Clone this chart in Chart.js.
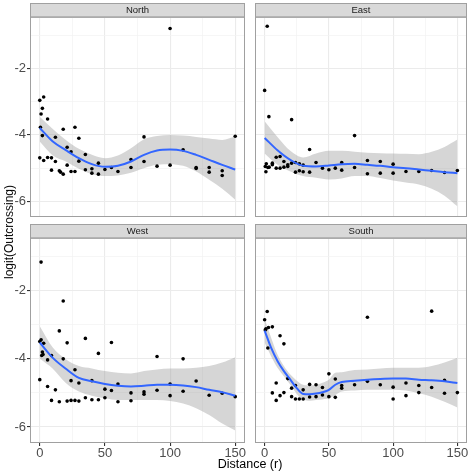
<!DOCTYPE html>
<html>
<head>
<meta charset="utf-8">
<script src="https://cdn.jsdelivr.net/npm/chart.js@4.4.1/dist/chart.umd.min.js"></script>
<style>
  body { margin: 0; background: #fff; font-family: "Liberation Sans", Arial, sans-serif; }
  #wrap { position: relative; width: 474px; height: 474px; overflow: hidden; }
  canvas { position: absolute; }
  #north { left: 0; top: 3px; }
  #east { left: 251px; top: 3px; }
  #west { left: 0; top: 224px; }
  #south { left: 251px; top: 224px; }
  .axis-title { position: absolute; color: #000; white-space: nowrap; }
  #ytitle { left: 8.5px; top: 232px; font-size: 12px; transform: translate(-50%, -50%) rotate(-90deg); }
  #xtitle { left: 250px; top: 464px; font-size: 12.5px; transform: translate(-50%, -50%); }
</style>
</head>
<body>
<div id="wrap">
  <canvas id="north" width="249" height="218"></canvas>
  <canvas id="east" width="220" height="218"></canvas>
  <canvas id="west" width="249" height="238"></canvas>
  <canvas id="south" width="220" height="238"></canvas>
  <div class="axis-title" id="ytitle">logit(Outcrossing)</div>
  <div class="axis-title" id="xtitle">Distance (r)</div>
</div>
<script>
const regions = ["North", "East", "West", "South"];
const xMajorTicks = [0, 50, 100, 150];
const xMinorTicks = [25, 75, 125];
const yMajorTicks = [-6, -4, -2];
const yMinorTicks = [-5, -3, -1];

// observed points
const northDist = [0, 3, 1, 2, 6, 0.5, 2, 0, 3, 6, 9, 9, 12, 12, 15, 16, 18, 18, 21, 24, 21, 24, 27, 27, 30, 30, 35, 35, 40, 40, 45, 45, 50, 55, 60, 70, 70, 80, 80, 90, 100, 100, 110, 120, 120, 130, 130, 140, 140, 150];
const northLogit = [-2.96, -2.86, -3.37, -3.20, -3.52, -3.77, -4.02, -4.69, -4.77, -4.68, -4.69, -5.06, -4.07, -4.80, -5.08, -5.12, -5.18, -3.83, -4.37, -4.51, -4.91, -5.10, -5.10, -3.77, -4.10, -4.79, -4.59, -5.05, -5.02, -5.15, -4.85, -5.18, -5.04, -4.98, -5.10, -4.74, -4.98, -4.06, -4.80, -4.94, -0.80, -4.91, -4.45, -4.98, -5.01, -4.98, -5.12, -5.08, -5.22, -4.04];

const eastDist = [2, 0, 3.3, 21, 70, 35, 0.5, 1.3, 1, 2.5, 3.5, 6, 6, 9, 12, 9, 12, 15, 18, 18, 15, 21, 24, 27, 30, 24, 27, 30, 35, 40, 45, 50, 55, 60, 60, 70, 80, 80, 90, 90, 100, 100, 110, 120, 130, 140, 150];
const eastLogit = [-0.73, -2.66, -3.45, -3.54, -4.02, -4.44, -4.95, -4.87, -5.11, -4.98, -4.97, -4.85, -4.90, -4.67, -4.65, -5.00, -5.00, -4.97, -4.95, -4.90, -4.80, -4.85, -4.83, -4.87, -4.91, -5.12, -5.08, -5.11, -5.12, -4.83, -5.00, -5.05, -5.00, -4.83, -5.06, -4.98, -4.77, -5.17, -4.80, -5.15, -4.88, -5.15, -5.10, -5.10, -5.07, -5.13, -5.07];

const westDist = [1, 18, 15, 21, 35, 55, 45, 90, 110, 0, 1, 3, 2, 2.5, 1.5, 9, 6, 18, 27, 0, 6, 12, 9, 15, 21, 24, 27, 30, 24, 30, 35, 40, 40, 45, 50, 50, 55, 60, 60, 70, 70, 80, 80, 90, 100, 100, 110, 120, 130, 140, 150];
const westLogit = [-1.16, -2.30, -3.18, -3.53, -3.40, -3.52, -3.84, -3.93, -4.00, -3.49, -3.44, -3.54, -3.80, -3.87, -3.90, -3.90, -4.03, -4.00, -4.32, -4.61, -4.81, -4.91, -5.22, -5.26, -5.24, -5.22, -5.22, -5.24, -4.64, -4.71, -5.14, -5.20, -4.64, -5.20, -5.14, -4.89, -4.93, -4.74, -5.26, -5.00, -5.23, -4.97, -5.04, -4.92, -4.74, -5.08, -4.95, -4.65, -5.07, -5.01, -5.11];

const southDist = [0, 2, 1, 0.5, 3, 6, 2.5, 12, 15, 80, 130, 50, 9, 6, 9, 12, 15, 18, 21, 21, 24, 24, 27, 30, 30, 35, 35, 40, 40, 45, 45, 50, 55, 55, 60, 60, 70, 80, 90, 100, 100, 110, 110, 120, 120, 130, 140, 140, 150];
const southLogit = [-2.85, -2.61, -3.12, -3.15, -3.08, -3.06, -3.68, -3.32, -3.56, -2.78, -2.60, -4.44, -4.71, -5.00, -5.22, -5.08, -4.99, -4.58, -4.86, -5.11, -4.78, -5.18, -5.18, -4.91, -5.18, -4.75, -5.12, -4.76, -5.11, -4.84, -5.06, -5.11, -4.59, -5.13, -4.78, -4.86, -4.76, -4.66, -4.76, -4.83, -5.18, -4.71, -5.08, -4.78, -4.99, -4.84, -4.63, -5.01, -4.99];

// loess fit with confidence band
const fitDist = [0, 10, 20, 30, 40, 50, 60, 70, 80, 90, 100, 110, 120, 130, 140, 150];
const northFit = [-3.79, -4.20, -4.46, -4.70, -4.88, -4.96, -4.93, -4.80, -4.60, -4.47, -4.44, -4.48, -4.60, -4.75, -4.90, -5.04];
const northUpper = [-3.45, -3.82, -4.15, -4.42, -4.60, -4.70, -4.62, -4.40, -4.13, -4.03, -4.00, -4.02, -4.06, -4.11, -4.15, -4.05];
const northLower = [-4.20, -4.62, -4.80, -5.02, -5.18, -5.24, -5.22, -5.14, -5.00, -4.90, -4.88, -4.93, -5.10, -5.35, -5.62, -5.95];

const eastFit = [-4.09, -4.46, -4.75, -4.93, -4.95, -4.92, -4.88, -4.87, -4.90, -4.93, -4.97, -5.00, -5.04, -5.08, -5.12, -5.15];
const eastUpper = [-3.59, -4.06, -4.48, -4.68, -4.56, -4.48, -4.48, -4.51, -4.54, -4.55, -4.56, -4.57, -4.58, -4.51, -4.36, -4.14];
const eastLower = [-4.56, -4.90, -5.10, -5.24, -5.29, -5.34, -5.31, -5.24, -5.24, -5.30, -5.37, -5.43, -5.49, -5.62, -5.83, -6.15];

const westFit = [-3.52, -3.97, -4.29, -4.56, -4.66, -4.74, -4.79, -4.81, -4.79, -4.76, -4.76, -4.78, -4.83, -4.91, -4.98, -5.08];
const westUpper = [-3.04, -3.67, -4.01, -4.21, -4.28, -4.36, -4.41, -4.43, -4.36, -4.31, -4.28, -4.28, -4.26, -4.21, -4.11, -3.95];
const westLower = [-4.00, -4.29, -4.71, -4.96, -5.08, -5.16, -5.21, -5.21, -5.21, -5.21, -5.24, -5.31, -5.45, -5.65, -5.90, -6.10];

const southFitDist = [0, 5, 10, 15, 20, 25, 30, 35, 40, 45, 50, 55, 60, 70, 80, 90, 100, 110, 120, 130, 140, 150];
const southFit = [-3.17, -3.67, -4.06, -4.36, -4.61, -4.86, -5.03, -5.04, -5.02, -4.98, -4.91, -4.76, -4.68, -4.64, -4.61, -4.59, -4.58, -4.58, -4.61, -4.63, -4.66, -4.71];
const southUpper = [-2.82, -3.37, -3.87, -4.21, -4.46, -4.64, -4.76, -4.78, -4.76, -4.70, -4.61, -4.41, -4.39, -4.33, -4.31, -4.28, -4.26, -4.26, -4.26, -4.21, -4.11, -3.97];
const southLower = [-3.52, -3.92, -4.26, -4.51, -4.76, -5.03, -5.21, -5.23, -5.21, -5.19, -5.16, -5.06, -4.96, -4.93, -4.91, -4.91, -4.91, -4.93, -5.01, -5.11, -5.26, -5.43];

const FONT = "'Liberation Sans', Arial, sans-serif";
const xTickValues = [...xMajorTicks, ...xMinorTicks].sort((a, b) => a - b);
const yTickValues = [...yMajorTicks, ...yMinorTicks].sort((a, b) => a - b);

const toXY = (xs, ys) => xs.map((x, i) => ({ x, y: ys[i] }));

// grey strip above the panel + panel border
const stripPlugin = {
  id: "strip",
  beforeDraw(chart) {
    const { ctx, chartArea: a } = chart;
    ctx.save();
    ctx.fillStyle = "#D9D9D9";
    ctx.fillRect(a.left, 0, a.right - a.left, a.top);
    ctx.restore();
  },
  afterDraw(chart) {
    const { ctx, chartArea: a } = chart;
    ctx.save();
    ctx.strokeStyle = "#A0A0A0";
    ctx.lineWidth = 1;
    ctx.strokeRect(a.left + 0.5, 0.5, a.right - a.left - 1, a.top - 1);
    ctx.strokeRect(a.left + 0.5, a.top - 0.5, a.right - a.left - 1, a.bottom - a.top);
    ctx.restore();
  }
};

function makePanel(canvasId, name, pts, fitX, fit, upper, lower, col, row) {
  const isMajorX = v => xMajorTicks.includes(v);
  const isMajorY = v => yMajorTicks.includes(v);
  return new Chart(document.getElementById(canvasId), {
    type: "scatter",
    data: {
      datasets: [
        { data: toXY(fitX, fit), showLine: true, borderColor: "#3366FF", borderWidth: 2,
          pointRadius: 0, cubicInterpolationMode: "monotone", fill: false },
        { data: pts, pointRadius: 1.8, pointBackgroundColor: "#000", pointBorderWidth: 0, showLine: false },
        { data: toXY(fitX, upper), showLine: true, borderWidth: 0, pointRadius: 0,
          cubicInterpolationMode: "monotone", backgroundColor: "rgba(153,153,153,0.4)", fill: "+1" },
        { data: toXY(fitX, lower), showLine: true, borderWidth: 0, pointRadius: 0,
          cubicInterpolationMode: "monotone", fill: false }
      ]
    },
    options: {
      responsive: false,
      animation: false,
      layout: { padding: 0 },
      plugins: {
        legend: { display: false },
        tooltip: { enabled: false },
        title: {
          display: true, text: name, fullSize: false, color: "#1A1A1A",
          font: { family: FONT, size: 9.5, weight: "normal", lineHeight: 1.2 },
          padding: { top: 1.6, bottom: 1.6 }
        }
      },
      scales: {
        x: {
          type: "linear", min: -7.5, max: 157.5,
          afterBuildTicks: s => { s.ticks = xTickValues.map(v => ({ value: v })); },
          afterFit: s => { s.height = row === 1 ? 19 : 0; s.paddingLeft = 0; s.paddingRight = 0; },
          ticks: {
            display: row === 1, autoSkip: false, maxRotation: 0, padding: 0,
            color: "#4D4D4D", font: { family: FONT, size: 13 },
            callback: v => isMajorX(v) ? String(v) : ""
          },
          grid: {
            drawTicks: row === 1, tickLength: 3,
            color: c => isMajorX(c.tick.value) ? "#EBEBEB" : "#F2F2F2",
            lineWidth: c => isMajorX(c.tick.value) ? 1.1 : 0.7,
            tickColor: c => isMajorX(c.tick.value) ? "#333333" : "rgba(0,0,0,0)"
          },
          border: { display: false }
        },
        y: {
          type: "linear", min: -6.47, max: -0.47,
          afterBuildTicks: s => { s.ticks = yTickValues.map(v => ({ value: v })); },
          afterFit: s => { s.width = col === 0 ? 30 : 0; s.paddingTop = 0; s.paddingBottom = 0; },
          ticks: {
            display: col === 0, autoSkip: false, padding: 1,
            color: "#4D4D4D", font: { family: FONT, size: 13 },
            callback: v => isMajorY(v) ? String(v) : ""
          },
          grid: {
            drawTicks: col === 0, tickLength: 3,
            color: c => isMajorY(c.tick.value) ? "#EBEBEB" : "#F2F2F2",
            lineWidth: c => isMajorY(c.tick.value) ? 1.1 : 0.7,
            tickColor: c => isMajorY(c.tick.value) ? "#333333" : "rgba(0,0,0,0)"
          },
          border: { display: false }
        }
      }
    },
    plugins: [stripPlugin]
  });
}

makePanel("north", regions[0], toXY(northDist, northLogit), fitDist, northFit, northUpper, northLower, 0, 0);
makePanel("east", regions[1], toXY(eastDist, eastLogit), fitDist, eastFit, eastUpper, eastLower, 1, 0);
makePanel("west", regions[2], toXY(westDist, westLogit), fitDist, westFit, westUpper, westLower, 0, 1);
makePanel("south", regions[3], toXY(southDist, southLogit), southFitDist, southFit, southUpper, southLower, 1, 1);
</script>
</body>
</html>
